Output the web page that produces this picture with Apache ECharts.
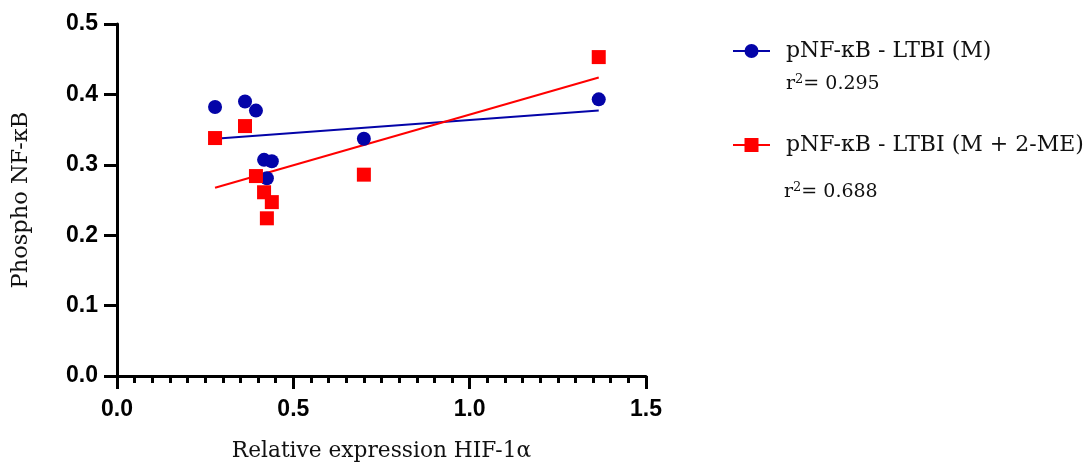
<!DOCTYPE html>
<html>
<head>
<meta charset="utf-8">
<script src="https://cdn.jsdelivr.net/npm/echarts@6/dist/echarts.min.js"></script>
<style>
  html, body { margin: 0; padding: 0; background: #ffffff; overflow: hidden; }
  #chart { width: 1089px; height: 463px; }
</style>
</head>
<body>
<div id="chart"></div>
<script>
// ---- Data ----
const seriesNames = ['pNF-κB - LTBI (M)', 'pNF-κB - LTBI (M + 2-ME)'];
const rSquared = ['0.295', '0.688'];

const hifBlue = [0.278, 0.363, 0.394, 0.417, 0.439, 0.425, 0.700, 1.366];
const nfkbBlue = [0.382, 0.390, 0.377, 0.307, 0.305, 0.281, 0.337, 0.393];

const hifRed = [0.278, 0.363, 0.394, 0.417, 0.439, 0.425, 0.700, 1.366];
const nfkbRed = [0.338, 0.355, 0.284, 0.261, 0.247, 0.224, 0.286, 0.453];

// Fit lines (end points)
const fitBlueX = [0.278, 1.366];
const fitBlueY = [0.337, 0.377];
const fitRedX = [0.278, 1.366];
const fitRedY = [0.2675, 0.424];

const xTicks = { min: 0, max: 1.5, interval: 0.5 };
const yTicks = { min: 0, max: 0.5, interval: 0.1 };

const xTitle = 'Relative expression HIF-1α';
const yTitle = 'Phospho NF-κB';

// ---- Build ----
const zip = (xs, ys) => xs.map((x, i) => [x, ys[i]]);
const BLUE = '#0404A8';
const RED = '#FF0000';
const SERIF = '"DejaVu Serif", "Liberation Serif", serif';
const SANS = '"Liberation Sans", Arial, sans-serif';

const rText = v => 'r{sup|2}{n|= ' + v + '}';
const rRich = {
  sup: { fontFamily: SERIF, fontSize: 13, color: '#111', verticalAlign: 'top', padding: [0, 0, 9, 0] },
  n: { fontFamily: SERIF, fontSize: 19, color: '#111' }
};

const chart = echarts.init(document.getElementById('chart'));
chart.setOption({
  backgroundColor: '#ffffff',
  animation: false,
  grid: { left: 117, right: 443, top: 24, bottom: 87, containLabel: false, outerBoundsMode: 'none' },
  xAxis: {
    type: 'value',
    min: xTicks.min, max: xTicks.max, interval: xTicks.interval,
    name: xTitle,
    nameLocation: 'middle',
    nameGap: 64,
    nameTextStyle: { fontFamily: SERIF, fontSize: 21.7, color: '#111' },
    axisLine: { show: true, onZero: false, lineStyle: { color: '#000', width: 3 } },
    axisTick: { show: true, length: 13, lineStyle: { color: '#000', width: 3 } },
    minorTick: { show: true, splitNumber: 10, length: 7, lineStyle: { color: '#000', width: 3 } },
    axisLabel: { margin: 22, fontFamily: SANS, fontWeight: 'bold', fontSize: 23, color: '#000',
      formatter: v => v.toFixed(1) },
    splitLine: { show: false }
  },
  yAxis: {
    type: 'value',
    min: yTicks.min, max: yTicks.max, interval: yTicks.interval,
    name: yTitle,
    nameLocation: 'middle',
    nameGap: 84,
    nameTextStyle: { fontFamily: SERIF, fontSize: 22.5, color: '#111' },
    axisLine: { show: true, onZero: false, lineStyle: { color: '#000', width: 3 } },
    axisTick: { show: true, length: 13, lineStyle: { color: '#000', width: 3 } },
    axisLabel: { margin: 19, fontFamily: SANS, fontWeight: 'bold', fontSize: 23, color: '#000',
      formatter: v => v.toFixed(1) },
    splitLine: { show: false }
  },
  legend: {
    data: seriesNames,
    orient: 'vertical',
    left: 727,
    top: 33,
    itemWidth: 37,
    itemHeight: 17.5,
    itemGap: 68,
    textStyle: { fontFamily: SERIF, fontSize: 22, color: '#111', lineHeight: 26, padding: [0, 0, 0, 11] }
  },
  title: [
    { text: rText(rSquared[0]), left: 786, top: 73, padding: 0,
      textStyle: { fontFamily: SERIF, fontSize: 19, fontWeight: 'normal', color: '#111', rich: rRich } },
    { text: rText(rSquared[1]), left: 784, top: 181, padding: 0,
      textStyle: { fontFamily: SERIF, fontSize: 19, fontWeight: 'normal', color: '#111', rich: rRich } }
  ],
  series: [
    { name: seriesNames[0], type: 'line', data: zip(fitBlueX, fitBlueY), symbol: 'circle', showSymbol: false,
      color: BLUE, lineStyle: { color: BLUE, width: 2 }, itemStyle: { color: BLUE }, z: 2 },
    { name: seriesNames[1], type: 'line', data: zip(fitRedX, fitRedY), symbol: 'rect', showSymbol: false,
      color: RED, lineStyle: { color: RED, width: 2 }, itemStyle: { color: RED }, z: 2 },
    { name: 'M points', type: 'scatter', data: zip(hifBlue, nfkbBlue), symbol: 'circle', symbolSize: 14,
      itemStyle: { color: BLUE, opacity: 1 }, z: 3 },
    { name: 'M + 2-ME points', type: 'scatter', data: zip(hifRed, nfkbRed), symbol: 'rect', symbolSize: 14,
      itemStyle: { color: RED, opacity: 1 }, z: 3 }
  ]
});
</script>
</body>
</html>
